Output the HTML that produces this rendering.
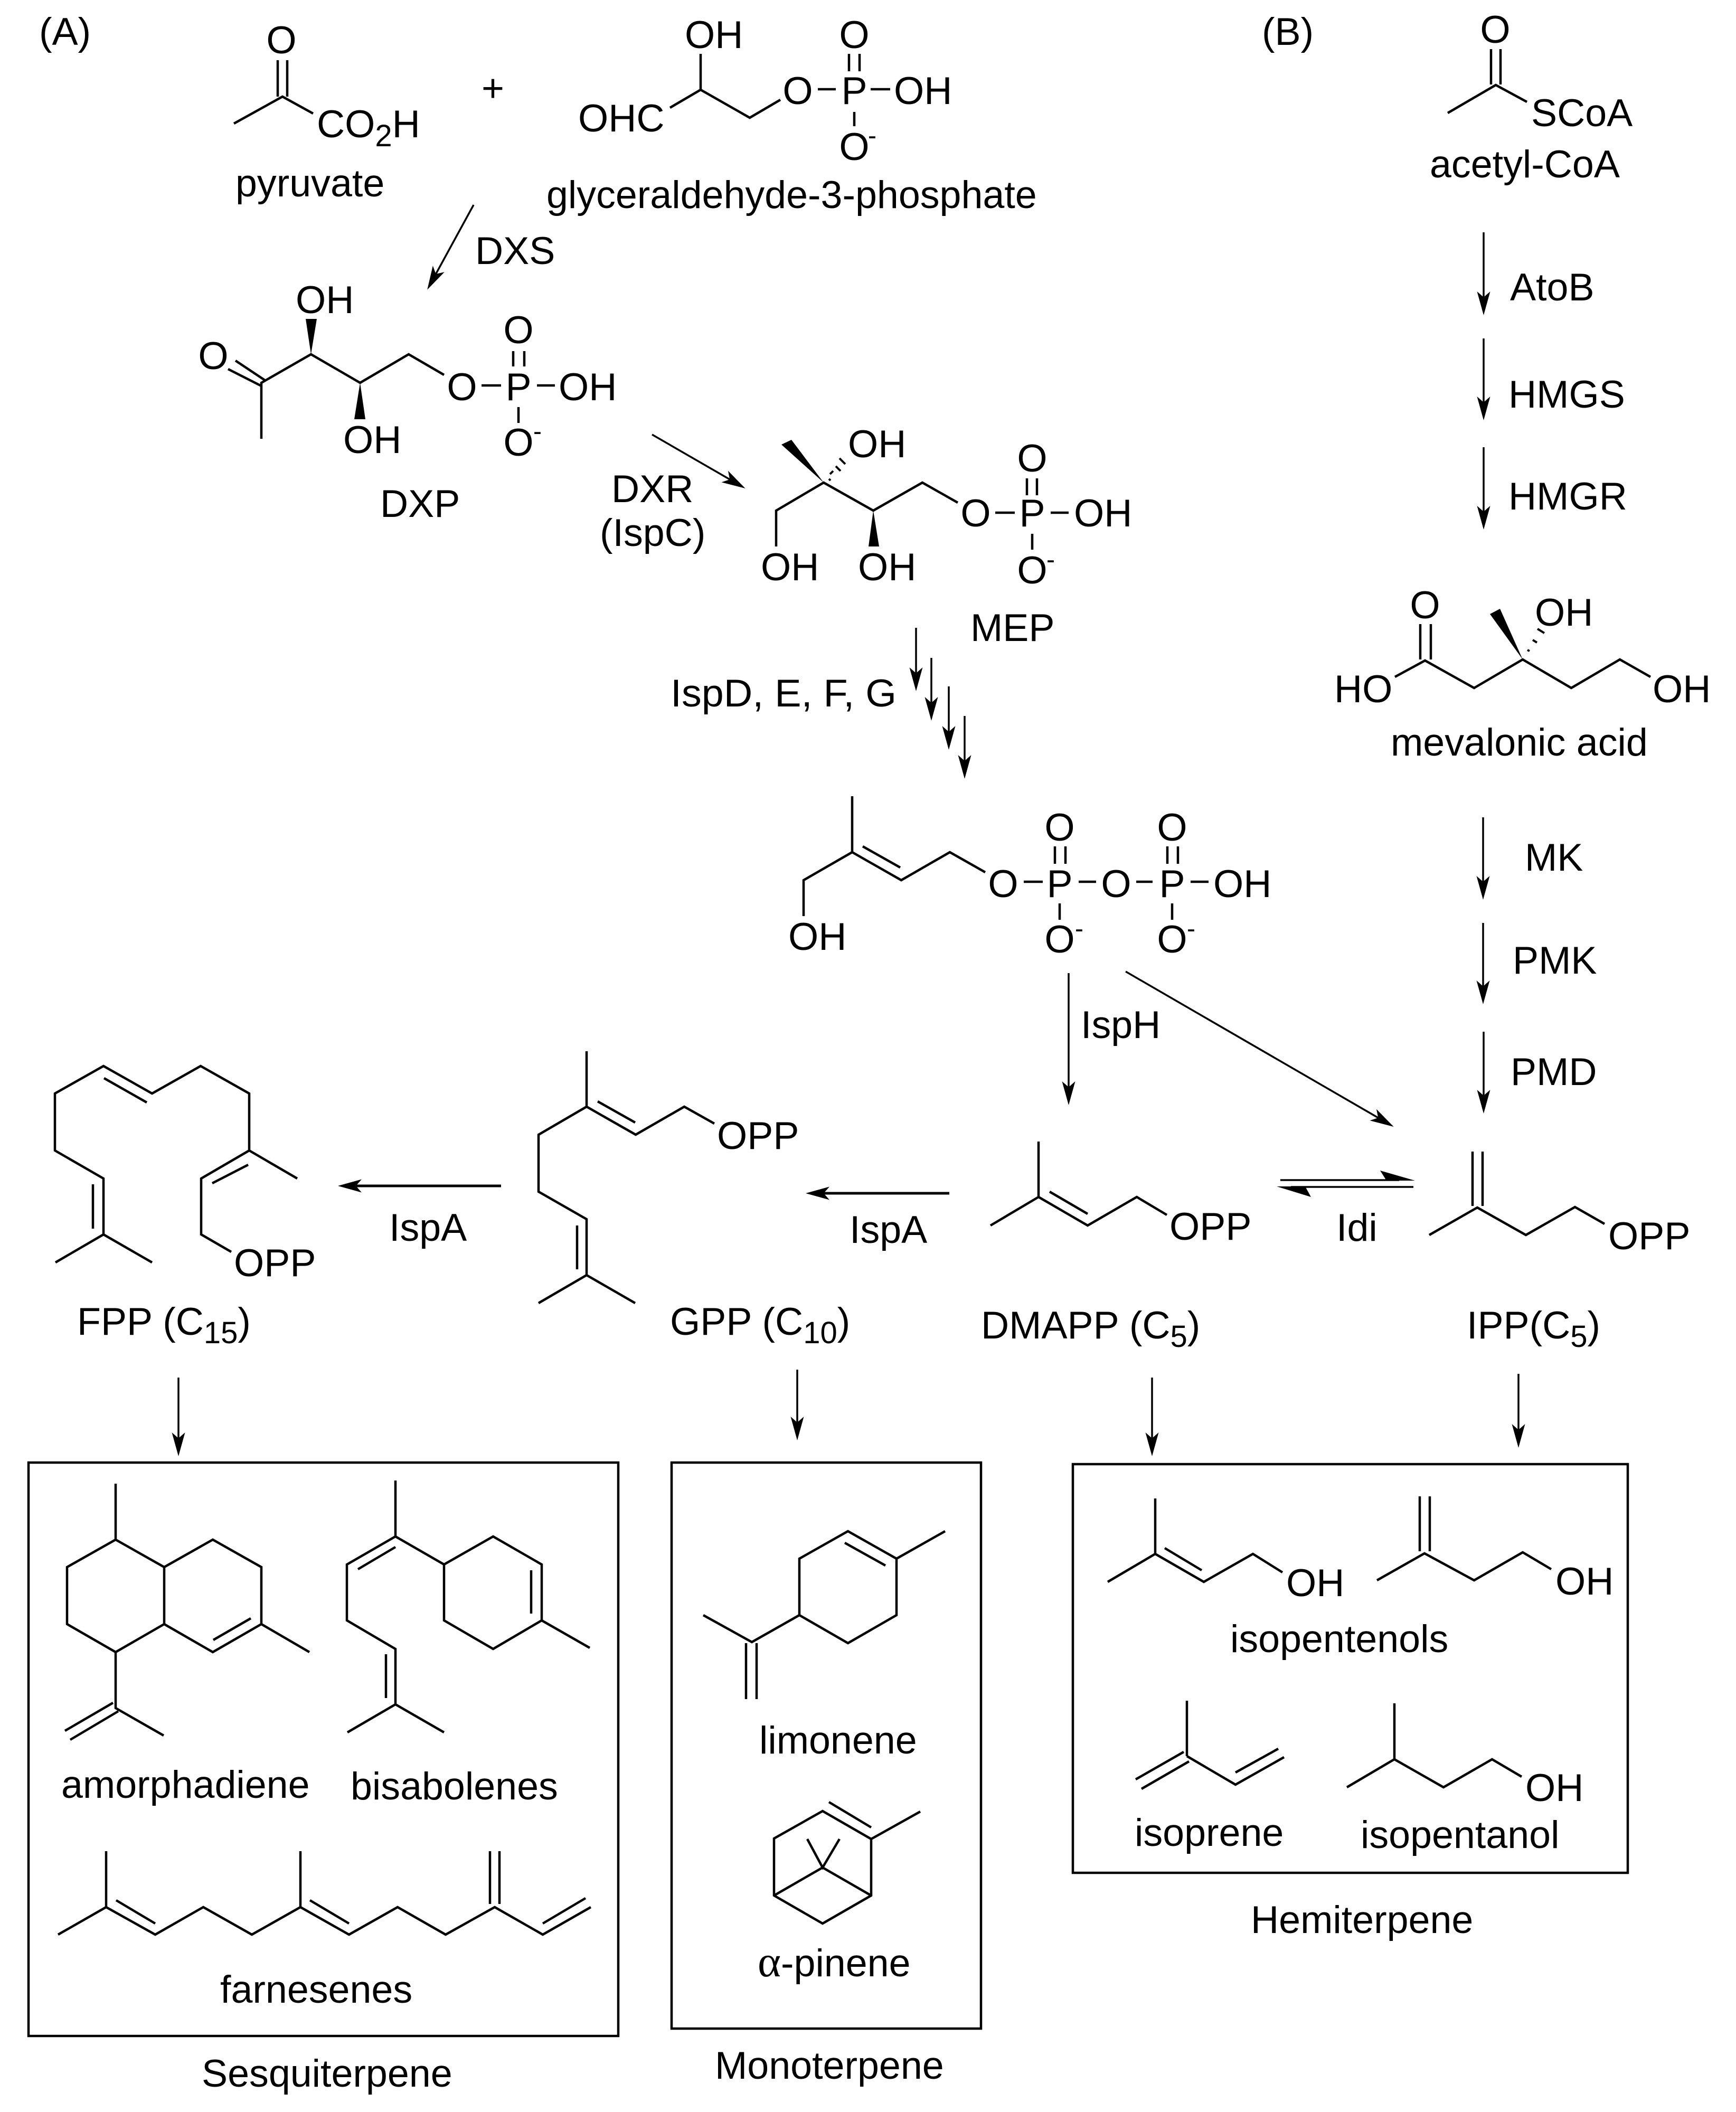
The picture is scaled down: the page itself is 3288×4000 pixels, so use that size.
<!DOCTYPE html>
<html><head><meta charset="utf-8"><title>Terpene biosynthesis pathways</title>
<style>
html,body{margin:0;padding:0;background:#fff}
svg{display:block}
text{font-family:"Liberation Sans",sans-serif;font-size:73.6px;fill:#000}
.m{text-anchor:middle}
.s{font-size:58px}
.n{font-size:48px}
.b{fill:none;stroke:#000;stroke-width:4.5;stroke-linejoin:miter}
.a{fill:none;stroke:#000;stroke-width:3.5}
.f{fill:#000;stroke:none}
</style></head><body>
<svg xmlns="http://www.w3.org/2000/svg" width="3288" height="4000" viewBox="0 0 3288 4000">
<defs><marker id="h" markerUnits="userSpaceOnUse" markerWidth="60" markerHeight="30" refX="45" refY="15" orient="auto"><path d="M55 15L10 2.5L21 15L10 27.5Z" fill="#000"/></marker></defs>
<rect width="3288" height="4000" fill="#fff"/>

<!-- headers -->
<text x="74" y="85">(A)</text>
<text x="2390" y="85">(B)</text>

<!-- pyruvate -->
<g class="b"><path d="M443 234L535 183L593 215"/><path d="M526 114V183M544 114V183"/></g>
<text class="m" x="533" y="101">O</text>
<text x="600" y="260">CO<tspan class="s" dy="17">2</tspan><tspan dy="-17">H</tspan></text>
<text x="446" y="372">pyruvate</text>
<text x="912" y="192">+</text>

<!-- G3P -->
<g class="b"><path d="M1269 204L1327 170L1420 223L1478 189"/><path d="M1327 170V102"/><path d="M1549 169H1583M1649 169H1686"/><path d="M1608 102V135M1628 102V135M1618 212V239"/></g>
<text x="1297" y="91">OH</text>
<text x="1095" y="249">OHC</text>
<text class="m" x="1511" y="197">O</text>
<text class="m" x="1618" y="197">P</text>
<text class="m" x="1618" y="91">O</text>
<text x="1693" y="197">OH</text>
<text class="m" x="1618" y="303">O</text>
<text class="n" x="1644" y="273">-</text>
<text x="1035" y="394">glyceraldehyde-3-phosphate</text>

<!-- DXS -->
<path class="a" d="M897 388L814 540" marker-end="url(#h)"/>
<text x="900" y="500">DXS</text>

<!-- DXP -->
<g class="b"><path d="M495 831V725L589 671L682 725L774 671L841 710"/><path d="M495 731L432 699M503 721L446 683"/><path d="M912 730H949M1017 730H1051"/><path d="M972 665V694M993 665V694M982 771V801"/></g>
<path class="f" d="M589 671L579 604H600Z"/>
<path class="f" d="M682 725L671 794H692Z"/>
<text x="560" y="593">OH</text>
<text class="m" x="404" y="699">O</text>
<text class="m" x="875" y="758">O</text>
<text class="m" x="982" y="758">P</text>
<text class="m" x="982" y="650">O</text>
<text x="1058" y="758">OH</text>
<text x="650" y="858">OH</text>
<text class="m" x="982" y="863">O</text>
<text class="n" x="1010" y="833">-</text>
<text x="720" y="979">DXP</text>

<!-- DXR -->
<path class="a" d="M1235 823L1403 920" marker-end="url(#h)"/>
<text x="1158" y="951">DXR</text>
<text x="1136" y="1034">(IspC)</text>

<!-- MEP -->
<g class="b"><path d="M1470 1035V967L1560 914L1654 967L1747 914L1814 952"/><path d="M1885 971H1922M1990 971H2024"/><path d="M1945 906V938M1964 906V938M1955 1011V1041"/></g>
<path class="f" d="M1560 914L1480 842L1499 833Z"/>
<path class="b" style="stroke-width:4" d="M1570 907l3 3M1578 892l-6 6M1592 892l-9 -9M1601 879l-11 -11"/>
<path class="f" d="M1654 967L1645 1035H1665Z"/>
<text x="1606" y="866">OH</text>
<text x="1441" y="1099">OH</text>
<text x="1625" y="1099">OH</text>
<text class="m" x="1848" y="997">O</text>
<text class="m" x="1955" y="997">P</text>
<text class="m" x="1955" y="893">O</text>
<text x="2034" y="997">OH</text>
<text class="m" x="1955" y="1105">O</text>
<text class="n" x="1982" y="1076">-</text>
<text x="1838" y="1214">MEP</text>

<!-- IspD.. arrows -->
<g class="a"><path d="M1735 1189V1299" marker-end="url(#h)"/><path d="M1764 1246V1355" marker-end="url(#h)"/><path d="M1797 1300V1410" marker-end="url(#h)"/><path d="M1827 1356V1465" marker-end="url(#h)"/></g>
<text x="1270" y="1338" textLength="428" lengthAdjust="spacingAndGlyphs">IspD, E, F, G</text>

<!-- HMBPP -->
<g class="b"><path d="M1614 1508V1614L1707 1667L1799 1614L1866 1652"/><path d="M1634 1603L1705 1643"/><path d="M1614 1614L1522 1667V1735"/><path d="M1939 1670H1975M2043 1670H2076M2152 1670H2183M2255 1670H2289"/><path d="M1998 1603V1636M2018 1603V1636M2211 1603V1636M2231 1603V1636M2007 1711V1742M2220 1711V1742"/></g>
<text x="1493" y="1799">OH</text>
<text class="m" x="1900" y="1699">O</text>
<text class="m" x="2007" y="1699">P</text>
<text class="m" x="2007" y="1592">O</text>
<text class="m" x="2114" y="1699">O</text>
<text class="m" x="2220" y="1699">P</text>
<text class="m" x="2220" y="1592">O</text>
<text x="2298" y="1699">OH</text>
<text class="m" x="2007" y="1804">O</text>
<text class="n" x="2036" y="1775">-</text>
<text class="m" x="2220" y="1804">O</text>
<text class="n" x="2248" y="1775">-</text>

<!-- IspH arrows -->
<path class="a" d="M2024 1843V2083" marker-end="url(#h)"/>
<path class="a" d="M2132 1840L2631 2129" marker-end="url(#h)"/>
<text x="2047" y="1966">IspH</text>

<!-- MVA side -->
<g class="b"><path d="M2742 214L2833 161L2892 193"/><path d="M2824 93V160M2842 93V160"/></g>
<text class="m" x="2832" y="81">O</text>
<text x="2900" y="239">SCoA</text>
<text x="2708" y="336">acetyl-CoA</text>
<g class="a"><path d="M2810 440V587" marker-end="url(#h)"/><path d="M2810 641V786" marker-end="url(#h)"/><path d="M2810 847V993" marker-end="url(#h)"/><path d="M2809 1548V1694" marker-end="url(#h)"/><path d="M2809 1748V1892" marker-end="url(#h)"/><path d="M2810 1954V2099" marker-end="url(#h)"/></g>
<text x="2860" y="569">AtoB</text>
<text x="2857" y="772">HMGS</text>
<text x="2857" y="965">HMGR</text>
<text x="2888" y="1649">MK</text>
<text x="2865" y="1844">PMK</text>
<text x="2861" y="2055">PMD</text>

<!-- mevalonic -->
<g class="b"><path d="M2642 1282L2699 1251L2792 1303L2884 1249L2976 1303L3068 1249L3126 1282"/><path d="M2690 1182V1249M2710 1182V1249"/></g>
<path class="f" d="M2884 1249L2822 1163L2841 1153Z"/>
<path class="b" style="stroke-width:4" d="M2893 1231l4 2M2903 1212l8 5M2912 1191l13 8"/>
<text class="m" x="2699" y="1171">O</text>
<text x="2527" y="1330">HO</text>
<text x="3130" y="1330">OH</text>
<text x="2907" y="1185">OH</text>
<text x="2634" y="1431">mevalonic acid</text>

<!-- IPP -->
<g class="b"><path d="M2707 2339L2798 2287L2890 2339L2983 2286L3039 2318"/><path d="M2789 2181V2284M2808 2181V2284"/></g>
<text x="3046" y="2366">OPP</text>
<text x="2778" y="2535">IPP(C<tspan class="s" dy="16">5</tspan><tspan dy="-16">)</tspan></text>

<!-- equilibrium -->
<g class="a"><path d="M2425 2235H2650M2445 2248H2677"/></g>
<path class="f" d="M2680 2236L2614 2217L2626 2236Z"/>
<path class="f" d="M2418 2247L2483 2267L2472 2247Z"/>
<text x="2531" y="2350">Idi</text>

<!-- DMAPP -->
<g class="b"><path d="M1967 2162V2267L1876 2321"/><path d="M1967 2267L2060 2321L2153 2267L2210 2301"/><path d="M1988 2257L2060 2299"/></g>
<text x="2215" y="2348">OPP</text>
<text x="1858" y="2535">DMAPP (C<tspan class="s" dy="16">5</tspan><tspan dy="-16">)</tspan></text>
<path class="a" style="stroke-width:5" d="M1798 2260H1536" marker-end="url(#h)"/>
<text x="1609" y="2354">IspA</text>

<!-- GPP -->
<g class="b"><path d="M1111 1991V2096L1204 2149L1296 2096L1353 2128"/><path d="M1132 2086L1203 2126"/><path d="M1111 2096L1020 2149V2257L1111 2309V2415"/><path d="M1093 2321V2404"/><path d="M1020 2468L1111 2415L1203 2468"/></g>
<text x="1358" y="2176">OPP</text>
<text x="1269" y="2528">GPP (C<tspan class="s" dy="16">10</tspan><tspan dy="-16">)</tspan></text>
<path class="a" style="stroke-width:5" d="M949 2246H650" marker-end="url(#h)"/>
<text x="737" y="2350">IspA</text>

<!-- FPP -->
<g class="b"><path d="M105 2391L196 2338L288 2391"/><path d="M196 2338V2232L104 2179V2071L196 2019L288 2071L380 2019L472 2071V2179L563 2232"/><path d="M176 2243V2327M197 2042L278 2088"/><path d="M472 2179L381 2232V2338L438 2371"/><path d="M402 2241L470 2206"/></g>
<text x="443" y="2417">OPP</text>
<text x="146" y="2528">FPP (C<tspan class="s" dy="16">15</tspan><tspan dy="-16">)</tspan></text>

<!-- down arrows -->
<g class="a"><path d="M338 2609V2748" marker-end="url(#h)"/><path d="M1510 2594V2718" marker-end="url(#h)"/><path d="M2182 2609V2748" marker-end="url(#h)"/><path d="M2876 2602V2732" marker-end="url(#h)"/></g>

<!-- boxes -->
<g class="b"><rect x="54" y="2770" width="1117" height="1086"/><rect x="1272" y="2770" width="586" height="1072"/><rect x="2032" y="2773" width="1051" height="774"/></g>

<!-- amorphadiene -->
<g class="b"><path d="M219 2810V2916L311 2968V3076L219 3129L127 3076V2968L219 2916"/><path d="M311 2968L403 2916L495 2968V3076L403 3129L311 3076"/><path d="M404 3106L475 3065M495 3076L586 3129"/><path d="M219 3129V3235L310 3287"/><path d="M123 3278L214 3225M133 3295L224 3241"/></g>
<text x="116" y="3405">amorphadiene</text>

<!-- bisabolene -->
<g class="b"><path d="M749 2804V2910L657 2963V3069L749 3123V3228L658 3281M749 3228L841 3281"/><path d="M678 2972L749 2930M731 3133V3216"/><path d="M749 2910L841 2963L934 2910L1026 2963V3069L934 3123L841 3069V2963"/><path d="M1006 2974V3056M1026 3069L1117 3121"/></g>
<text x="664" y="3408">bisabolenes</text>

<!-- farnesene -->
<g class="b"><path d="M110 3664L201 3612L294 3664L385 3612L477 3664L569 3612L661 3664L753 3612L844 3664L937 3612L1028 3664L1119 3612"/><path d="M201 3506V3612M569 3506V3612M928 3506V3606M946 3506V3606"/><path d="M220 3599L294 3643M587 3599L661 3643M1028 3643L1109 3595"/></g>
<text x="417" y="3793">farnesenes</text>
<text x="382" y="3952">Sesquiterpene</text>

<!-- limonene -->
<g class="b"><path d="M1790 2900L1698 2952L1606 2900L1514 2952V3059L1606 3112L1698 3059V2952"/><path d="M1600 2922L1677 2965"/><path d="M1514 3059L1424 3110L1332 3059"/><path d="M1413 3112V3218M1433 3112V3218"/></g>
<text x="1438" y="3321">limonene</text>

<!-- pinene -->
<g class="b"><path d="M1743 3431L1650 3483L1558 3430L1466 3482V3590L1558 3643L1650 3590V3483"/><path d="M1570 3413L1650 3461"/><path d="M1466 3590L1558 3537L1650 3590"/><path d="M1529 3483L1558 3537L1590 3483"/></g>
<text x="1435" y="3743"><tspan style="font-family:'Liberation Serif','DejaVu Serif',serif;font-size:84px">α</tspan>-pinene</text>
<text x="1354" y="3937">Monoterpene</text>

<!-- hemiterpenes -->
<g class="b"><path d="M2188 2838V2943L2098 2996"/><path d="M2188 2943L2280 2996L2373 2943L2429 2978"/><path d="M2206 2932L2276 2974"/>
<path d="M2608 2993L2698 2942L2792 2993L2884 2940L2938 2972"/><path d="M2689 2834V2938M2708 2834V2938"/>
<path d="M2248 3221V3326"/><path d="M2151 3370L2242 3318M2162 3388L2252 3336"/><path d="M2248 3326L2340 3380L2432 3328"/><path d="M2340 3357L2421 3312"/>
<path d="M2641 3226V3332L2551 3385"/><path d="M2641 3332L2734 3385L2826 3332L2882 3365"/></g>
<text x="2436" y="3023">OH</text>
<text x="2946" y="3020">OH</text>
<text x="2330" y="3129">isopentenols</text>
<text x="2889" y="3411">OH</text>
<text x="2149" y="3496">isoprene</text>
<text x="2577" y="3500">isopentanol</text>
<text x="2369" y="3661">Hemiterpene</text>
</svg>
</body></html>
